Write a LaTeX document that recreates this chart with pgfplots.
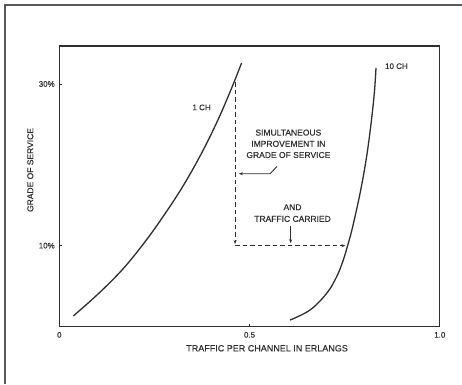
\documentclass[border=0pt]{standalone}
\usepackage{fontspec}
\setmainfont{Liberation Sans}[FakeBold=0.4]
\usepackage{pgfplots}
\pgfplotsset{compat=1.18}
\usetikzlibrary{arrows.meta}
\definecolor{ink}{HTML}{2E2E2E}
\begin{document}
\begin{tikzpicture}[x=1pt,y=1pt]
\path[use as bounding box] (0,0) rectangle (462,384);
\draw[ink!80, line width=1.4pt] (5,0) -- (5,379) -- (462,379);
\begin{axis}[
  at={(59.3pt,57.5pt)}, anchor=south west,
  width=380.5pt, height=280.5pt, scale only axis,
  xmin=0, xmax=1, ymin=0, ymax=34.7,
  axis line style={ink, line width=1.2pt},
  xtick={0,0.5,1}, xticklabels={0,0.5,1.0},
  ytick={10,30}, yticklabels={10\%,30\%},
  tick align=inside, xtick pos=bottom, ytick pos=left,
  major tick length=3pt, tick style={ink, line width=0.9pt},
  ticklabel style={font=\fontsize{8}{9}\selectfont, text=ink},
  xticklabel style={yshift=-2pt},
  yticklabel style={xshift=-1pt},
  clip=false,
]
% 1 channel
\addplot[ink, line width=1.3pt, smooth, tension=0.6] coordinates {
  (0.0368,1.30) (0.1025,4.05) (0.164,6.95) (0.2166,9.95) (0.2647,13.05)
  (0.3217,17.11) (0.3716,21.24) (0.415,25.36) (0.453,29.50) (0.479,32.6)
};
% 10 channels
\addplot[ink, line width=1.3pt, smooth, tension=0.6] coordinates {
  (0.6063,0.80) (0.6589,2.04) (0.7028,4.11) (0.729,6.17) (0.7464,8.24)
  (0.7595,10.30) (0.7711,12.36) (0.7905,16.50) (0.8063,20.62) (0.8184,24.74)
  (0.8279,28.88) (0.8323,31.98)
};
% dashed path
\addplot[ink, line width=1pt, dash pattern=on 4.5pt off 3pt, -{Stealth[length=4pt,width=3pt]}] coordinates {(0.462,30.2) (0.462,10.2)};
\addplot[ink, line width=1pt, dash pattern=on 4.5pt off 3pt, -{Stealth[length=4pt,width=3pt]}] coordinates {(0.462,10) (0.752,10)};
% arrows
\addplot[ink, line width=0.9pt, -{Stealth[length=4pt,width=3pt]}] coordinates {(0.572,19.8) (0.554,18.9) (0.472,18.9)};
\addplot[ink, line width=0.9pt, -{Stealth[length=4pt,width=3pt]}] coordinates {(0.608,12.4) (0.608,10.3)};
% labels
\node[font=\fontsize{8}{9}\selectfont, text=ink] at (axis cs:0.374,27.1) {1 CH};
\node[font=\fontsize{8}{9}\selectfont, text=ink] at (axis cs:0.886,32.2) {10 CH};
\node[font=\fontsize{8.5}{11.2}\selectfont, text=ink, align=center] at (axis cs:0.602,22.6) {SIMULTANEOUS\\IMPROVEMENT IN\\GRADE OF SERVICE};
\node[font=\fontsize{8.5}{11.7}\selectfont, text=ink, align=center] at (axis cs:0.613,14.03) {AND\\TRAFFIC CARRIED};
\node[font=\fontsize{9}{10}\selectfont, text=ink] at ([yshift=-21.8pt]rel axis cs:0.546,0) {TRAFFIC PER CHANNEL IN ERLANGS};
\node[font=\fontsize{8.5}{10}\selectfont, text=ink, rotate=90] at ([xshift=-29pt]rel axis cs:0,0.558) {GRADE OF SERVICE};
\end{axis}
\end{tikzpicture}
\end{document}
